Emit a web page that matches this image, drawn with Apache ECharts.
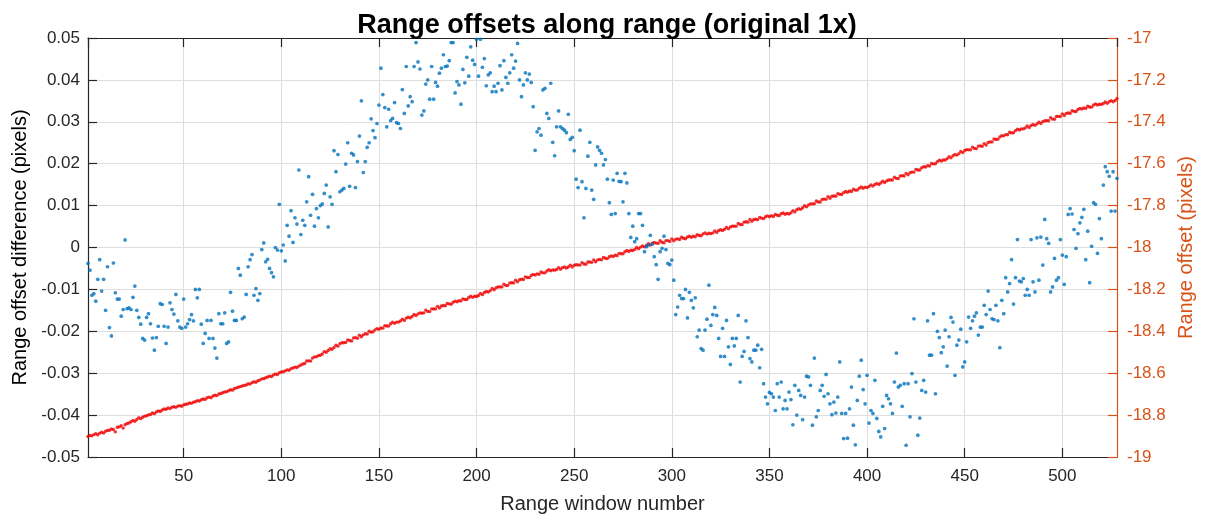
<!DOCTYPE html>
<html>
<head>
<meta charset="utf-8">
<title>Range offsets along range</title>
<script src="https://cdn.jsdelivr.net/npm/echarts@6/dist/echarts.min.js"></script>
<style>
  html, body { margin: 0; padding: 0; background: #ffffff; }
  #chart { width: 1210px; height: 525px; }
</style>
</head>
<body>
<div id="chart"></div>
<script>
// Range window numbers run from 1 to the last window.
const firstWindow = 1;
const lastWindow = 528;

// Tick labels
const xTicks = [50, 100, 150, 200, 250, 300, 350, 400, 450, 500];
const leftTicks = [-0.05, -0.04, -0.03, -0.02, -0.01, 0, 0.01, 0.02, 0.03, 0.04, 0.05];
const rightTicks = [-19, -18.8, -18.6, -18.4, -18.2, -18, -17.8, -17.6, -17.4, -17.2, -17];

// Range offset difference per window (pixels), left axis
const offsetDifference = [
  -0.0038,-0.0054,-0.0114,-0.011,-0.0128,-0.0076,-0.0029,-0.0104,-0.0076,-0.015,
  -0.0046,-0.0191,-0.0211,-0.0037,-0.0108,-0.0123,-0.0123,-0.0164,-0.0148,0.0018,
  -0.0146,-0.0144,-0.0148,-0.0119,-0.0092,-0.015,-0.0167,-0.0183,-0.0217,-0.0221,
  -0.0167,-0.0158,-0.0182,-0.0216,-0.0245,-0.0215,-0.0188,-0.0134,-0.0136,-0.0188,
  -0.0229,-0.019,-0.0132,-0.0148,-0.0159,-0.0112,-0.0175,-0.019,-0.0193,-0.0123,
  -0.019,-0.0182,-0.0172,-0.016,-0.0175,-0.01,-0.012,-0.01,-0.0183,-0.0229,
  -0.0205,-0.0174,-0.0217,-0.0174,-0.0217,-0.024,-0.0264,-0.0158,-0.0182,-0.0182,
  -0.0156,-0.0229,-0.0225,-0.0107,-0.0152,-0.0174,-0.0174,-0.005,-0.0066,-0.017,
  -0.0166,-0.0112,-0.0046,-0.0029,-0.0017,-0.0114,-0.0098,-0.0126,-0.011,-0.0005,
  0.0011,-0.0034,-0.0028,-0.005,-0.006,-0.007,0,-0.0006,0.0103,-0.0008,
  0.0006,-0.0032,0.0053,0.0027,0.0088,0.0012,0.0071,0.0056,0.0185,0.0031,
  0.0065,0.0053,0.0109,0.0169,0.0077,0.0127,0.0051,0.0093,0.0071,0.01,
  0.0104,0.0129,0.0149,0.0049,0.0121,0.0103,0.0231,0.0181,0.0222,0.0133,
  0.0137,0.0141,0.0199,0.025,0.0146,0.0225,0.0221,0.0143,0.0205,0.0266,
  0.035,0.0179,0.0205,0.0239,0.025,0.0307,0.0279,0.0262,0.0296,0.034,
  0.0428,0.0365,0.0334,0.0288,0.033,0.0303,0.0308,0.0346,0.0298,0.0296,
  0.0284,0.0377,0.032,0.0432,0.0338,0.036,0.0348,0.0432,0.0489,0.0443,
  0.0426,0.0316,0.0326,0.039,0.04,0.0354,0.0432,0.0354,0.0394,0.0385,
  0.0416,0.0428,0.046,0.0432,0.0433,0.0446,0.0489,0.0489,0.0369,0.0396,
  0.0388,0.0342,0.0425,0.0393,0.0454,0.0409,0.0479,0.0447,0.0437,0.0497,
  0.0409,0.0497,0.043,0.0451,0.0386,0.0412,0.0417,0.0372,0.0385,0.0372,
  0.0392,0.0434,0.0376,0.0446,0.0406,0.0392,0.0417,0.046,0.0428,0.0445,
  0.0487,0.04,0.036,0.0388,0.0417,0.04,0.0414,0.0394,0.0336,0.0232,
  0.0276,0.0284,0.0268,0.0376,0.038,0.032,0.0308,0.0392,0.0251,0.0219,
  0.0288,0.0326,0.0288,0.0284,0.028,0.0274,0.0318,0.0258,0.0263,0.0231,
  0.0163,0.0143,0.028,0.0157,0.0071,0.0141,0.0218,0.0251,0.0137,0.0115,
  0.0197,0.024,0.0232,0.0225,0.0197,0.021,0.0163,0.0107,0.0079,0.0161,
  0.0081,0.0177,0.0158,0.0157,0.0109,0.0177,0.0154,0.0081,0.0024,0.0051,
  0.0014,0.0021,0.0081,0.0081,0.0053,-0.001,0.0002,0.0006,0.0029,0.0008,
  -0.0022,-0.0041,-0.0076,-0.001,-0.0002,0.0027,-0.0005,-0.0038,-0.0041,-0.003,
  -0.0078,-0.016,-0.0142,-0.0114,-0.0122,-0.0122,-0.01,-0.0168,-0.0107,-0.0126,
  -0.0144,-0.012,-0.0213,-0.0197,-0.0241,-0.0245,-0.0197,-0.0171,-0.009,-0.0186,
  -0.016,-0.0143,-0.0162,-0.0217,-0.026,-0.0193,-0.026,-0.0174,-0.0237,-0.0279,
  -0.0217,-0.0235,-0.0217,-0.0162,-0.0321,-0.026,-0.0248,-0.0175,-0.0215,-0.0265,
  -0.0273,-0.0245,-0.0245,-0.0233,-0.0287,-0.0243,-0.0325,-0.0357,-0.0373,-0.0346,
  -0.0349,-0.0357,-0.0389,-0.0325,-0.0357,-0.0321,-0.0385,-0.0365,-0.0385,-0.0345,
  -0.0363,-0.0423,-0.0329,-0.04,-0.0341,-0.0353,-0.0411,-0.0357,-0.0307,-0.0309,
  -0.0329,-0.0424,-0.0264,-0.0404,-0.0389,-0.0341,-0.0329,-0.0355,-0.0303,-0.0349,
  -0.0373,-0.0399,-0.0369,-0.0395,-0.0357,-0.0273,-0.0396,-0.0456,-0.0396,-0.0455,
  -0.0385,-0.0333,-0.0424,-0.0471,-0.0365,-0.0307,-0.0269,-0.0339,-0.0373,-0.0305,
  -0.0419,-0.0389,-0.0396,-0.0317,-0.0408,-0.0439,-0.0452,-0.0379,-0.0432,-0.0353,
  -0.0361,-0.0373,-0.0396,-0.0321,-0.0252,-0.0333,-0.0329,-0.0379,-0.0325,-0.0472,
  -0.0325,-0.0404,-0.0301,-0.017,-0.0321,-0.0448,-0.0407,-0.0341,-0.0317,-0.0345,
  -0.0175,-0.0257,-0.0257,-0.0158,-0.0349,-0.02,-0.0215,-0.0251,-0.0237,-0.0197,
  -0.0283,-0.0213,-0.0167,-0.0178,-0.0305,-0.0233,-0.0221,-0.0195,-0.0285,-0.0273,
  -0.0225,-0.0166,-0.0193,-0.0175,-0.0164,-0.0156,-0.0209,-0.019,-0.019,-0.0138,
  -0.016,-0.0104,-0.0148,-0.017,-0.0172,-0.0138,-0.0175,-0.0239,-0.0126,-0.0158,
  -0.0072,-0.0106,-0.0086,-0.0029,-0.0135,-0.0072,0.0019,-0.008,-0.0082,-0.0074,
  -0.0114,-0.01,-0.0114,0.0019,-0.0082,-0.0106,0.0023,-0.0078,0.0025,-0.0042,
  0.0067,0.0021,0.001,-0.0106,-0.0094,-0.0026,-0.0078,-0.0072,0.0019,-0.0018,
  -0.0088,-0.0022,0.0079,0.0093,0.008,0.0043,-0.0002,0.0033,0.0059,0.0072,
  0.0091,-0.0029,0.0039,-0.0084,0.0003,0.0107,0.0103,-0.0014,0.0069,0.0021,
  0.0149,0.0193,0.0181,0.017,0.0087,0.0181,0.0087,0.0165
];

// Range offset per window (pixels), right axis
const rangeOffset = [
  -18.902,-18.897,-18.899,-18.893,-18.889,-18.894,-18.886,-18.882,-18.886,-18.877,
  -18.873,-18.872,-18.866,-18.869,-18.880,-18.858,-18.856,-18.851,-18.862,-18.846,
  -18.840,-18.838,-18.832,-18.826,-18.829,-18.821,-18.813,-18.817,-18.810,-18.805,
  -18.803,-18.799,-18.797,-18.790,-18.793,-18.785,-18.780,-18.783,-18.776,-18.771,
  -18.772,-18.766,-18.769,-18.762,-18.760,-18.763,-18.757,-18.755,-18.758,-18.751,
  -18.748,-18.747,-18.742,-18.744,-18.738,-18.736,-18.731,-18.733,-18.727,-18.723,
  -18.725,-18.717,-18.714,-18.717,-18.709,-18.705,-18.707,-18.699,-18.697,-18.693,
  -18.690,-18.688,-18.684,-18.679,-18.681,-18.673,-18.670,-18.667,-18.664,-18.661,
  -18.658,-18.656,-18.650,-18.652,-18.645,-18.641,-18.643,-18.636,-18.633,-18.627,
  -18.626,-18.622,-18.618,-18.614,-18.616,-18.608,-18.604,-18.606,-18.598,-18.594,
  -18.593,-18.589,-18.584,-18.586,-18.578,-18.575,-18.571,-18.573,-18.566,-18.561,
  -18.556,-18.554,-18.542,-18.541,-18.542,-18.528,-18.522,-18.522,-18.516,-18.514,
  -18.508,-18.497,-18.500,-18.492,-18.483,-18.486,-18.477,-18.466,-18.471,-18.459,
  -18.455,-18.455,-18.453,-18.441,-18.444,-18.446,-18.432,-18.430,-18.433,-18.419,
  -18.426,-18.417,-18.412,-18.413,-18.400,-18.404,-18.402,-18.393,-18.387,-18.390,
  -18.384,-18.385,-18.373,-18.375,-18.375,-18.364,-18.357,-18.362,-18.356,-18.356,
  -18.351,-18.342,-18.348,-18.337,-18.333,-18.336,-18.329,-18.320,-18.325,-18.317,
  -18.312,-18.314,-18.312,-18.299,-18.305,-18.306,-18.293,-18.293,-18.293,-18.281,
  -18.289,-18.279,-18.277,-18.278,-18.267,-18.269,-18.271,-18.261,-18.256,-18.259,
  -18.254,-18.255,-18.245,-18.248,-18.248,-18.239,-18.232,-18.238,-18.233,-18.234,
  -18.229,-18.219,-18.225,-18.215,-18.210,-18.213,-18.206,-18.196,-18.202,-18.192,
  -18.188,-18.188,-18.188,-18.175,-18.181,-18.181,-18.169,-18.168,-18.169,-18.156,
  -18.164,-18.154,-18.151,-18.153,-18.140,-18.143,-18.144,-18.134,-18.129,-18.131,
  -18.126,-18.128,-18.117,-18.121,-18.121,-18.112,-18.106,-18.111,-18.107,-18.108,
  -18.105,-18.096,-18.104,-18.096,-18.093,-18.098,-18.093,-18.085,-18.093,-18.085,
  -18.082,-18.083,-18.084,-18.072,-18.079,-18.080,-18.069,-18.069,-18.071,-18.059,
  -18.068,-18.059,-18.057,-18.059,-18.048,-18.051,-18.053,-18.044,-18.040,-18.043,
  -18.037,-18.039,-18.028,-18.030,-18.030,-18.020,-18.014,-18.019,-18.013,-18.014,
  -18.009,-18.000,-18.006,-17.998,-17.993,-17.997,-17.990,-17.982,-17.988,-17.979,
  -17.976,-17.979,-17.980,-17.968,-17.975,-17.978,-17.967,-17.967,-17.971,-17.959,
  -17.968,-17.960,-17.959,-17.962,-17.951,-17.956,-17.958,-17.950,-17.946,-17.951,
  -17.946,-17.949,-17.939,-17.943,-17.944,-17.935,-17.930,-17.936,-17.932,-17.934,
  -17.930,-17.921,-17.928,-17.919,-17.915,-17.919,-17.913,-17.904,-17.911,-17.902,
  -17.898,-17.898,-17.898,-17.885,-17.890,-17.891,-17.879,-17.877,-17.879,-17.866,
  -17.875,-17.866,-17.865,-17.867,-17.856,-17.860,-17.862,-17.853,-17.849,-17.853,
  -17.848,-17.852,-17.842,-17.846,-17.848,-17.839,-17.835,-17.841,-17.838,-17.840,
  -17.834,-17.824,-17.830,-17.820,-17.815,-17.818,-17.810,-17.801,-17.806,-17.797,
  -17.792,-17.792,-17.791,-17.778,-17.783,-17.783,-17.771,-17.769,-17.770,-17.757,
  -17.765,-17.755,-17.754,-17.755,-17.743,-17.746,-17.747,-17.738,-17.733,-17.736,
  -17.730,-17.733,-17.722,-17.726,-17.726,-17.717,-17.711,-17.717,-17.712,-17.714,
  -17.709,-17.701,-17.707,-17.699,-17.694,-17.699,-17.692,-17.684,-17.690,-17.682,
  -17.678,-17.678,-17.678,-17.665,-17.670,-17.671,-17.659,-17.657,-17.659,-17.646,
  -17.653,-17.643,-17.640,-17.640,-17.627,-17.630,-17.630,-17.619,-17.614,-17.616,
  -17.609,-17.611,-17.599,-17.601,-17.600,-17.590,-17.583,-17.587,-17.582,-17.582,
  -17.576,-17.567,-17.572,-17.562,-17.556,-17.559,-17.552,-17.542,-17.547,-17.537,
  -17.533,-17.534,-17.534,-17.521,-17.527,-17.528,-17.516,-17.515,-17.517,-17.504,
  -17.511,-17.499,-17.496,-17.496,-17.482,-17.484,-17.483,-17.472,-17.466,-17.467,
  -17.461,-17.462,-17.450,-17.453,-17.452,-17.442,-17.435,-17.439,-17.434,-17.434,
  -17.429,-17.420,-17.427,-17.418,-17.413,-17.417,-17.410,-17.402,-17.408,-17.399,
  -17.395,-17.395,-17.395,-17.381,-17.387,-17.388,-17.375,-17.374,-17.375,-17.362,
  -17.370,-17.360,-17.358,-17.359,-17.347,-17.350,-17.351,-17.341,-17.336,-17.339,
  -17.334,-17.336,-17.326,-17.329,-17.330,-17.320,-17.315,-17.320,-17.316,-17.317,
  -17.313,-17.305,-17.312,-17.304,-17.299,-17.304,-17.298,-17.289
];

const FONT = '"Liberation Sans", Arial, Helvetica, sans-serif';
const DARK = '#262626';
const RIGHT_COLOR = '#D95319';
const GRID_COLOR = '#dedede';

// Pair each value with its window number.
const toPoints = (values) => values.map((v, i) => [firstWindow + i, v]);

const chart = echarts.init(document.getElementById('chart'), null, { renderer: 'canvas' });

const xCommon = {
  type: 'value',
  min: firstWindow,
  max: lastWindow,
  splitNumber: xTicks.length,
  minInterval: xTicks[1] - xTicks[0],
  maxInterval: xTicks[1] - xTicks[0]
};

chart.setOption({
  animation: false,
  backgroundColor: '#ffffff',
  title: {
    text: 'Range offsets along range (original 1x)',
    left: 602,
    top: 7,
    textAlign: 'center',
    textStyle: { fontFamily: FONT, fontSize: 27, fontWeight: 'bold', color: '#000000' }
  },
  grid: { left: 88, right: 93, top: 38, bottom: 68, containLabel: false },
  xAxis: [
    Object.assign({}, xCommon, {
      position: 'bottom',
      name: 'Range window number',
      nameLocation: 'middle',
      nameGap: 37,
      nameTextStyle: { fontFamily: FONT, fontSize: 20, color: DARK },
      axisLine: { show: true, onZero: false, lineStyle: { color: DARK, width: 1.2 } },
      axisTick: { show: true, inside: true, length: 9, lineStyle: { color: DARK, width: 1.2 } },
      axisLabel: {
        show: true, margin: 11, showMinLabel: false, showMaxLabel: false,
        fontFamily: FONT, fontSize: 17, color: DARK
      },
      splitLine: { show: true, lineStyle: { color: GRID_COLOR, width: 1 } }
    }),
    Object.assign({}, xCommon, {
      position: 'top',
      axisLine: { show: true, onZero: false, lineStyle: { color: DARK, width: 1.2 } },
      axisTick: { show: true, inside: true, length: 9, lineStyle: { color: DARK, width: 1.2 } },
      axisLabel: { show: false },
      splitLine: { show: false }
    })
  ],
  yAxis: [
    {
      type: 'value',
      position: 'left',
      min: leftTicks[0],
      max: leftTicks[leftTicks.length - 1],
      interval: 0.01,
      name: 'Range offset difference (pixels)',
      nameLocation: 'middle',
      nameGap: 54,
      nameTextStyle: { fontFamily: FONT, fontSize: 20, color: '#000000' },
      axisLine: { show: true, onZero: false, lineStyle: { color: DARK, width: 1.2 } },
      axisTick: { show: true, inside: true, length: 9, lineStyle: { color: DARK, width: 1.2 } },
      axisLabel: { margin: 8, fontFamily: FONT, fontSize: 17, color: DARK },
      splitLine: { show: true, lineStyle: { color: GRID_COLOR, width: 1 } }
    },
    {
      type: 'value',
      position: 'right',
      min: rightTicks[0],
      max: rightTicks[rightTicks.length - 1],
      interval: 0.2,
      name: 'Range offset (pixels)',
      nameLocation: 'middle',
      nameGap: 58,
      nameRotate: 90,
      nameTextStyle: { fontFamily: FONT, fontSize: 20, color: RIGHT_COLOR },
      axisLine: { show: true, onZero: false, lineStyle: { color: RIGHT_COLOR, width: 1.2 } },
      axisTick: { show: true, inside: true, length: 9, lineStyle: { color: RIGHT_COLOR, width: 1.2 } },
      axisLabel: { margin: 10, fontFamily: FONT, fontSize: 17, color: RIGHT_COLOR },
      splitLine: { show: false }
    }
  ],
  series: [
    {
      name: 'Range offset',
      type: 'scatter',
      xAxisIndex: 0,
      yAxisIndex: 1,
      data: toPoints(rangeOffset),
      symbol: 'circle',
      symbolSize: 3.4,
      itemStyle: { color: '#f00000' },
      silent: true,
      clip: true
    },
    {
      name: 'Range offset difference',
      type: 'scatter',
      xAxisIndex: 0,
      yAxisIndex: 0,
      data: toPoints(offsetDifference),
      symbol: 'circle',
      symbolSize: 3.7,
      itemStyle: { color: '#0072BD' },
      silent: true,
      clip: true
    }
  ]
});
</script>
</body>
</html>
